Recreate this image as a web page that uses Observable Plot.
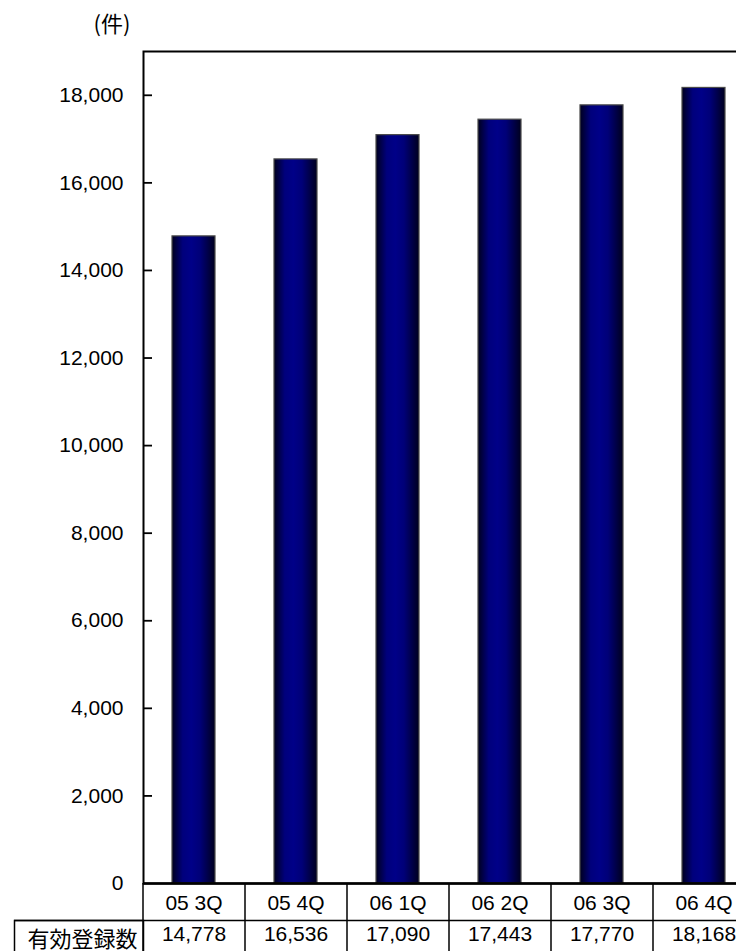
<!DOCTYPE html>
<html>
<head>
<meta charset="utf-8">
<script src="https://cdn.jsdelivr.net/npm/d3@7"></script>
<script src="https://cdn.jsdelivr.net/npm/@observablehq/plot@0.6"></script>
<style>
  html, body { margin: 0; padding: 0; background: #fff; }
  svg { display: block; }
</style>
</head>
<body>
<div id="chart"></div>
<script>
const categories = ["05 3Q", "05 4Q", "06 1Q", "06 2Q", "06 3Q", "06 4Q"];
const values = [14778, 16536, 17090, 17443, 17770, 18168];
const yTicks = [0, 2000, 4000, 6000, 8000, 10000, 12000, 14000, 16000, 18000];
const yMax = 19000;
const rowLabel = "有効登録数";
const unitLabel = "(件)";

const data = categories.map((c, i) => ({category: c, value: values[i]}));
const fmt = d3.format(",");
const latin = "'Liberation Sans', Arial, sans-serif";
const cjk = "'Noto Sans CJK JP', sans-serif";

const chart = Plot.plot({
  width: 736,
  height: 951,
  marginTop: 51,
  marginBottom: 68,
  marginLeft: 143,
  marginRight: 0,
  style: {fontFamily: latin, fontSize: "21px", color: "#000", background: "#fff", overflow: "visible"},
  x: {domain: categories, range: [143, 755], paddingInner: 0.578, paddingOuter: 0.289, axis: null},
  y: {domain: [0, yMax], axis: null},
  marks: [
    Plot.barY(data, {x: "category", y: "value", fill: "url(#barGrad)", stroke: "#4a4a4a", strokeWidth: 1.2}),
    Plot.frame({stroke: "#000", strokeWidth: 2, insetRight: -30}),
    Plot.ruleY([0], {stroke: "#000", strokeWidth: 2.6, insetRight: -30}),
    Plot.axisY({ticks: yTicks, tickFormat: fmt, tickSize: 0, tickPadding: 20, label: null, fontSize: 21, fontFamily: latin}),
    // inward tick marks: short ticks starting at the value axis
    Plot.tickY(yTicks.filter(d => d > 0), {y: d => d, x: () => categories[0], dx: -29, insetRight: 34, stroke: "#000", strokeWidth: 1.8}),
    // table: vertical column separators
    Plot.ruleX(categories, {x: d => d, dx: -51, y1: 0, y2: 0, insetBottom: -72, stroke: "#000", strokeWidth: 1.5}),
    // table: row separator
    Plot.ruleY([0], {dy: 37, insetLeft: -129, insetRight: -30, stroke: "#000", strokeWidth: 1.5}),
    // table: row label cell
    Plot.frame({insetLeft: -129, insetRight: 593, insetTop: 869, insetBottom: -72, stroke: "#000", strokeWidth: 1.5}),
    // category labels
    Plot.text(categories, {x: d => d, frameAnchor: "bottom", lineAnchor: "middle", dy: 20, fontSize: 21, fontFamily: latin, fill: "#000"}),
    // values
    Plot.text(data, {x: "category", text: d => fmt(d.value), frameAnchor: "bottom", lineAnchor: "middle", dy: 51, fontSize: 21, fontFamily: latin, fill: "#000"}),
    // row label
    Plot.text([rowLabel], {frameAnchor: "bottom-left", lineAnchor: "middle", textAnchor: "end", dx: -6, dy: 56, fontSize: 22, fontFamily: cjk, fill: "#000"}),
    // unit label
    Plot.text([unitLabel], {frameAnchor: "top-left", lineAnchor: "middle", dx: -50, dy: -27, fontSize: 22, fontFamily: cjk, fill: "#000"})
  ]
});

const svg = d3.select(chart);
const grad = svg.insert("defs", ":first-child")
  .append("linearGradient")
  .attr("id", "barGrad")
  .attr("x1", "0%").attr("x2", "100%").attr("y1", "0%").attr("y2", "0%");
[["0%", "#00001e"], ["25%", "#00007c"], ["45%", "#000088"], ["65%", "#000078"], ["100%", "#00001e"]]
  .forEach(([o, c]) => grad.append("stop").attr("offset", o).attr("stop-color", c));

document.getElementById("chart").appendChild(chart);
</script>
</body>
</html>
